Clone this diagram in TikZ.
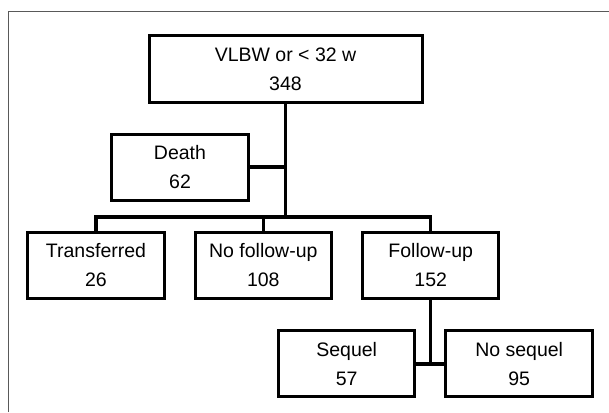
\documentclass[tikz,border=0pt]{standalone}
\usepackage{fontspec}
\setmainfont{Liberation Sans}
\usepackage{tikz}
\newcommand{\drawlink}{\draw[line width=3.5pt]}
\tikzset{
  box/.style={draw, line width=3pt, align=center, inner sep=0pt,
    font=\fontsize{19.5}{28.7}\selectfont},
  frameline/.style={draw=black!65, line width=1pt}
}
\begin{document}
\begin{tikzpicture}[x=1pt,y=-1pt]
\useasboundingbox (0,0) rectangle (609,412);
\draw[frameline] (8.5,412)--(8.5,12)--(609,12);
% boxes
\node[box, minimum width=273pt, minimum height=67pt] (total) at (285.5,69) {VLBW or < 32 w\\348};
\node[box, minimum width=137pt, minimum height=66pt] (death) at (180,167.2) {Death\\62};
\node[box, minimum width=137pt, minimum height=66.3pt] (trans) at (96,265.3) {Transferred\\26};
\node[box, minimum width=136.5pt, minimum height=66.3pt] (nofu) at (263.3,265.3) {No follow-up\\108};
\node[box, minimum width=136pt, minimum height=66.3pt] (fu) at (430.7,265.3) {Follow-up\\152};
\node[box, minimum width=135.7pt, minimum height=66pt] (seq) at (346.7,363.8) {Sequel\\57};
\node[box, minimum width=146.7pt, minimum height=66pt] (noseq) at (519.2,363.8) {No sequel\\95};
\coordinate (split) at (285.5,217);
% links
\drawlink (total.south)--(split);
\drawlink (death.east)--(death.east -| split);
\drawlink (trans.north)|-(split)-|(fu.north);
\drawlink (nofu.north)--(nofu.north |- split);
\drawlink (fu.south)--(fu.south |- seq.east);
\drawlink (seq.east)--(noseq.west);
\end{tikzpicture}
\end{document}
